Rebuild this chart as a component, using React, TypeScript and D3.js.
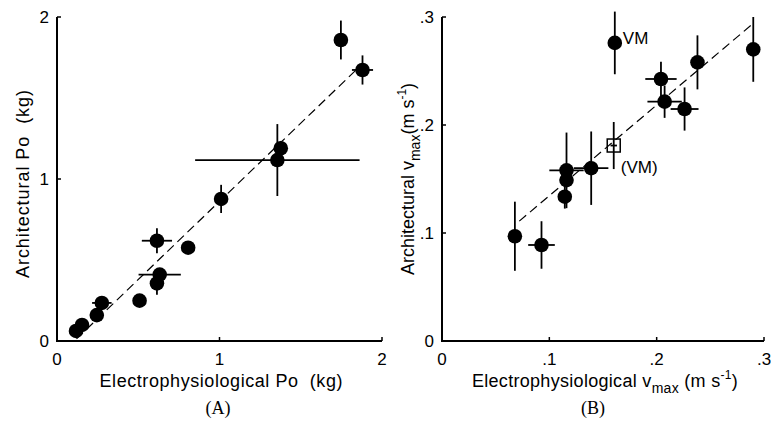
import React from "react";
import * as d3 from "d3";

// Panel A data (kg)
const aX = [1.747, 1.88, 1.377, 1.356, 1.01, 0.615, 0.807, 0.632, 0.615, 0.508, 0.276, 0.245, 0.154, 0.117];
const aY = [1.858, 1.673, 1.19, 1.117, 0.877, 0.619, 0.576, 0.41, 0.356, 0.249, 0.235, 0.16, 0.099, 0.062];
const aXErr = [0, 0.065, 0, 0.506, 0, 0.093, 0, 0.13, 0, 0, 0.06, 0, 0, 0];
const aYErr = [0.12, 0.09, 0.045, 0.222, 0.087, 0.077, 0, 0, 0.07, 0, 0, 0, 0, 0];
const aTicks = [0, 1, 2];
const aTickLabels = ["0", "1", "2"];
const aFit = { slope: 0.965, intercept: -0.103, from: 0.12, to: 1.86 };

// Panel B data (m/s)
const bX = [0.161, 0.29, 0.238, 0.204, 0.2074, 0.226, 0.139, 0.116, 0.116, 0.1144, 0.0679, 0.0927];
const bY = [0.276, 0.27, 0.258, 0.2426, 0.2216, 0.2148, 0.16, 0.158, 0.149, 0.1336, 0.097, 0.0889];
const bXErr = [0, 0, 0, 0.0146, 0.016, 0.013, 0.016, 0.016, 0, 0, 0, 0.0124];
const bYErr = [0.029, 0.03, 0.025, 0.016, 0.015, 0.02, 0.034, 0.035, 0, 0.011, 0.032, 0.022];
const bSquare = { x: 0.16, y: 0.181, xErr: 0.003, yErr: 0.0218 };
const bTicks = [0, 0.1, 0.2, 0.3];
const bTickLabels = ["0", ".1", ".2", ".3"];
const bFit = { slope: 0.84, intercept: 0.0505, from: 0.072, to: 0.29 };

const SANS = "'Liberation Sans', Arial, sans-serif";
const SERIF = "'Liberation Serif', 'Times New Roman', serif";

type PanelProps = {
  x: d3.ScaleLinear<number, number>;
  y: d3.ScaleLinear<number, number>;
  ticks: number[];
  tickLabels: string[];
};

function Axes({ x, y, ticks, tickLabels }: PanelProps) {
  const [x0, xEnd] = x.range();
  const [y0, yEnd] = y.range();
  return (
    <g>
      <path d={`M${x0},${yEnd}V${y0}H${xEnd}`} fill="none" stroke="#000" strokeWidth={2} />
      {ticks.map((t, i) => (
        <g key={"xt" + i}>
          <line x1={x(t)} x2={x(t)} y1={y0} y2={y0 - 4} stroke="#000" strokeWidth={1.5} />
          <text x={x(t)} y={y0 + 24} textAnchor="middle" fontFamily={SANS} fontSize={17}>
            {tickLabels[i]}
          </text>
        </g>
      ))}
      {ticks.map((t, i) => (
        <g key={"yt" + i}>
          <line x1={x0} x2={x0 + 4} y1={y(t)} y2={y(t)} stroke="#000" strokeWidth={1.5} />
          <text x={x0 - 8} y={y(t) + 6} textAnchor="end" fontFamily={SANS} fontSize={17}>
            {tickLabels[i]}
          </text>
        </g>
      ))}
    </g>
  );
}

function ErrorBars({ x, y, xs, ys, xe, ye }: any) {
  return (
    <g stroke="#000" strokeWidth={1.8}>
      {xs.map((v: number, i: number) => (
        <g key={i}>
          {xe[i] > 0 && <line x1={x(v - xe[i])} x2={x(v + xe[i])} y1={y(ys[i])} y2={y(ys[i])} />}
          {ye[i] > 0 && <line x1={x(v)} x2={x(v)} y1={y(ys[i] - ye[i])} y2={y(ys[i] + ye[i])} />}
        </g>
      ))}
    </g>
  );
}

export default function App() {
  const xA = d3.scaleLinear().domain([0, 2]).range([57, 382]);
  const yA = d3.scaleLinear().domain([0, 2]).range([341, 17]);
  const xB = d3.scaleLinear().domain([0, 0.3]).range([442, 764]);
  const yB = d3.scaleLinear().domain([0, 0.3]).range([341, 17]);

  const lineA = d3.line<number>().x((d) => xA(d)).y((d) => yA(aFit.slope * d + aFit.intercept));
  const lineB = d3.line<number>().x((d) => xB(d)).y((d) => yB(bFit.slope * d + bFit.intercept));

  return (
    <svg width={771} height={422} style={{ position: "absolute", left: 0, top: 0, background: "#fff" }}>
      <rect width={771} height={422} fill="#fff" />
      {/* Panel A */}
      <path d={lineA([aFit.from, aFit.to]) || ""} stroke="#000" strokeWidth={1.2} strokeDasharray="9,5" fill="none" />
      <ErrorBars x={xA} y={yA} xs={aX} ys={aY} xe={aXErr} ye={aYErr} />
      {aX.map((v, i) => (
        <circle key={i} cx={xA(v)} cy={yA(aY[i])} r={7.3} fill="#000" />
      ))}
      <Axes x={xA} y={yA} ticks={aTicks} tickLabels={aTickLabels} />
      <text
        x={221}
        y={387}
        textAnchor="middle"
        fontFamily={SANS}
        fontSize={18}
        textLength={243}
        lengthAdjust="spacing"
        style={{ whiteSpace: "pre" }}
      >
        {"Electrophysiological Po  (kg)"}
      </text>
      <text
        transform="translate(29,184) rotate(-90)"
        textAnchor="middle"
        fontFamily={SANS}
        fontSize={18}
        textLength={188}
        lengthAdjust="spacing"
        style={{ whiteSpace: "pre" }}
      >
        {"Architectural Po  (kg)"}
      </text>
      <text x={218} y={414} textAnchor="middle" fontFamily={SERIF} fontSize={18}>
        (A)
      </text>

      {/* Panel B */}
      <path d={lineB([bFit.from, bFit.to]) || ""} stroke="#000" strokeWidth={1.2} strokeDasharray="9,5" fill="none" />
      <ErrorBars x={xB} y={yB} xs={bX} ys={bY} xe={bXErr} ye={bYErr} />
      <ErrorBars x={xB} y={yB} xs={[bSquare.x]} ys={[bSquare.y]} xe={[bSquare.xErr]} ye={[bSquare.yErr]} />
      {bX.map((v, i) => (
        <circle key={i} cx={xB(v)} cy={yB(bY[i])} r={7.3} fill="#000" />
      ))}
      <rect
        x={xB(bSquare.x) - 6.5}
        y={yB(bSquare.y) - 6.5}
        width={13}
        height={13}
        fill="none"
        stroke="#000"
        strokeWidth={1.5}
      />
      <text x={xB(0.161) + 8} y={yB(0.276) + 1} fontFamily={SANS} fontSize={17}>
        VM
      </text>
      <text x={xB(bSquare.x) + 7} y={yB(bSquare.y) + 27} fontFamily={SANS} fontSize={17}>
        (VM)
      </text>
      <Axes x={xB} y={yB} ticks={bTicks} tickLabels={bTickLabels} />
      <text x={605} y={387} textAnchor="middle" fontFamily={SANS} fontSize={18} letterSpacing={0.3}>
        <tspan>Electrophysiological v</tspan>
        <tspan dy={6} fontSize={14}>max</tspan>
        <tspan dy={-6}> (m s</tspan>
        <tspan dy={-8} fontSize={12}>-1</tspan>
        <tspan dy={8}>)</tspan>
      </text>
      <text transform="translate(414,179) rotate(-90)" textAnchor="middle" fontFamily={SANS} fontSize={18}>
        <tspan>Architectural v</tspan>
        <tspan dy={6} fontSize={14}>max</tspan>
        <tspan dy={-6}>(m s</tspan>
        <tspan dy={-8} fontSize={12}>-1</tspan>
        <tspan dy={8}>)</tspan>
      </text>
      <text x={593} y={414} textAnchor="middle" fontFamily={SERIF} fontSize={18}>
        (B)
      </text>
    </svg>
  );
}
